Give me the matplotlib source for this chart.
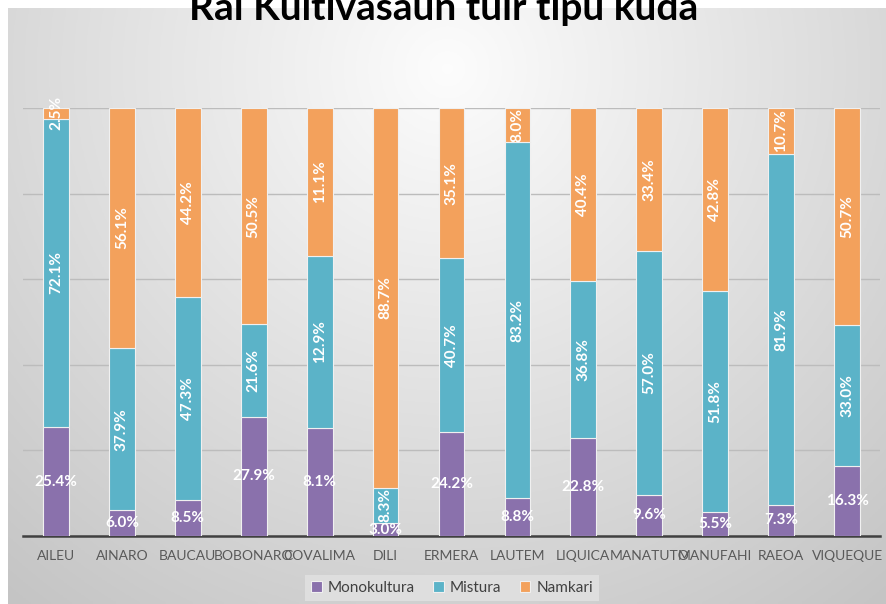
import matplotlib.pyplot as plt
import numpy as np

# Data (labels as shown on the chart; heights are normalised to 100%)
districts = ['AILEU', 'AINARO', 'BAUCAU', 'BOBONARO', 'COVALIMA', 'DILI', 'ERMERA',
             'LAUTEM', 'LIQUICA', 'MANATUTO', 'MANUFAHI', 'RAEOA', 'VIQUEQUE']
monokultura = [25.4, 6.0, 8.5, 27.9, 8.1, 3.0, 24.2, 8.8, 22.8, 9.6, 5.5, 7.3, 16.3]
mistura = [72.1, 37.9, 47.3, 21.6, 12.9, 8.3, 40.7, 83.2, 36.8, 57.0, 51.8, 81.9, 33.0]
namkari = [2.5, 56.1, 44.2, 50.5, 11.1, 88.7, 35.1, 8.0, 40.4, 33.4, 42.8, 10.7, 50.7]

colors = ['#8A71AC', '#5BB3C8', '#F3A15C']
names = ['Monokultura', 'Mistura', 'Namkari']

plt.rcParams['font.family'] = ['Lato', 'DejaVu Sans']

W, H = 887, 604
fig = plt.figure(figsize=(W / 100, H / 100), dpi=100)
fig.patch.set_facecolor('white')

# Gradient background
bg = fig.add_axes([8 / W, 0, 1 - 8 / W, 1 - 8 / H])
yy, xx = np.mgrid[0:1:200j, 0:1:300j]
d = np.sqrt(((xx - 0.5) / 0.75) ** 2 + ((yy - 0.1) / 1.1) ** 2)
shade = np.clip(0.99 - 0.21 * d, 0.77, 1.0)
bg.imshow(np.dstack([shade] * 3), aspect='auto', extent=[0, 1, 1, 0])
bg.set_axis_off()
bg.set_zorder(0)

ax = fig.add_axes([23 / W, (H - 536) / H, (880 - 23) / W, 428 / H])
ax.set_zorder(1)
ax.patch.set_alpha(0)

data = np.array([monokultura, mistura, namkari])
pct = data / data.sum(axis=0) * 100
x = np.arange(len(districts))
bottom = np.zeros(len(districts))
for i in range(3):
    ax.bar(x, pct[i], 0.39, bottom=bottom, color=colors[i], edgecolor='#f0f0f0',
           linewidth=0.8, label=names[i], zorder=3)
    for j in range(len(districts)):
        yc = bottom[j] + pct[i][j] / 2
        rot = 0 if i == 0 else 90
        ax.text(x[j], yc, f'{data[i][j]:.1f}%', ha='center', va='center', rotation=rot,
                color='white', fontsize=11, fontweight='bold', zorder=4)
    bottom += pct[i]

ax.set_xlim(-0.5, len(districts) - 0.5)
ax.set_ylim(0, 100)
ax.set_yticks([0, 20, 40, 60, 80, 100])
ax.yaxis.grid(True, color='#bcbcbc', linewidth=1)
ax.set_axisbelow(True)
ax.tick_params(axis='y', left=False, labelleft=False)
ax.set_xticks(x)
ax.set_xticklabels(districts, fontsize=10, color='#595959')
ax.tick_params(axis='x', length=0, pad=10)
for s in ['top', 'right', 'left']:
    ax.spines[s].set_visible(False)
ax.spines['bottom'].set_color('#404040')
ax.spines['bottom'].set_linewidth(1.8)

leg = fig.legend(loc='center', bbox_to_anchor=(452 / W, 1 - 588 / H), ncol=3,
                 fontsize=11, frameon=True, fancybox=False, handlelength=0.7,
                 handleheight=0.7, handletextpad=0.4, columnspacing=1.2,
                 labelcolor='#404040', borderpad=0.4)
leg.get_frame().set_facecolor('#e2e2e2')
leg.get_frame().set_edgecolor('none')

fig.text(0.5, 1 - 20 / H, 'Rai Kultivasaun tuir tipu kuda', ha='center', va='baseline',
         fontsize=28, fontweight='bold', color='black')

fig.savefig('out.png', dpi=100)
